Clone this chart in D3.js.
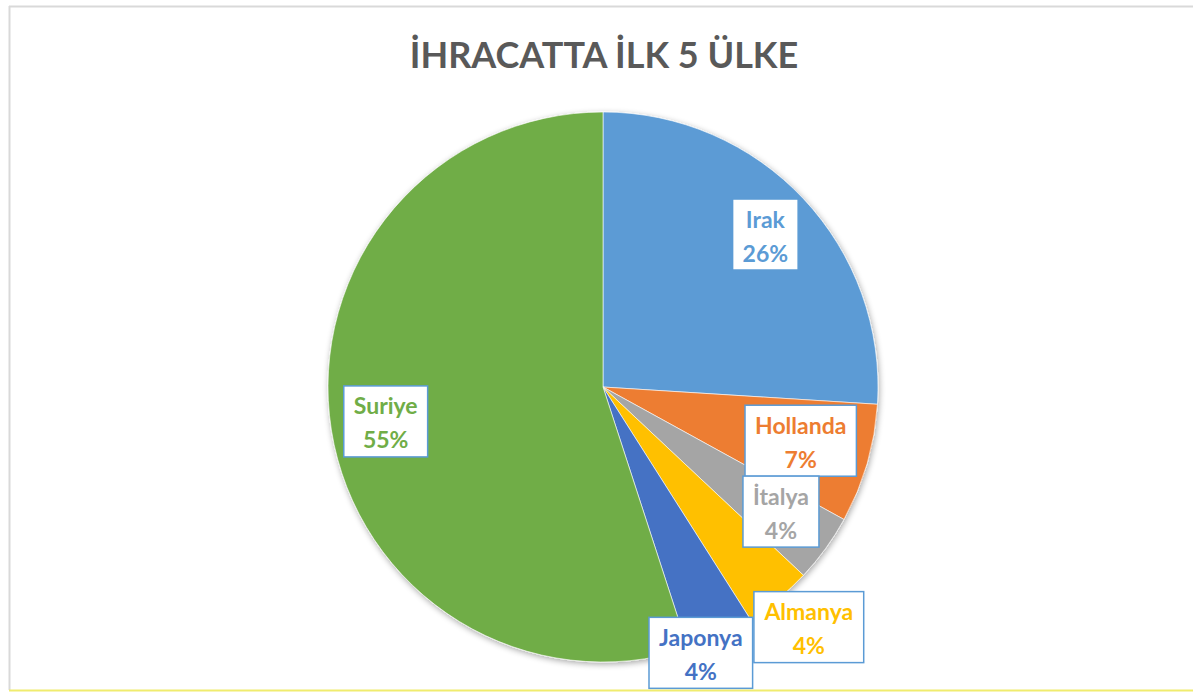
<!DOCTYPE html>
<html>
<head>
<meta charset="utf-8">
<script src="https://cdn.jsdelivr.net/npm/d3@7"></script>
<style>
  html, body { margin: 0; padding: 0; background: #fff; }
  svg { display: block; }
</style>
</head>
<body>
<div id="chart"></div>
<script>
// veriler
const countries = ["Irak", "Hollanda", "İtalya", "Almanya", "Japonya", "Suriye"];
const shares = [26, 7, 4, 4, 4, 55];
const colors = ["#5B9BD5", "#ED7D31", "#A5A5A5", "#FFC000", "#4472C4", "#70AD47"];
const title = "İHRACATTA İLK 5 ÜLKE";

// etiket yerleşimi: merkeze uzaklık (yarıçap oranı) ve açı kaydırması (derece)
const labelRadius = [0.81, 0.745, 0.79, 1.15, 1.03, 0.80];
const labelTurn = [0, -1, -1, -1, 5, 0];

const width = 1193, height = 693;
const cx = 603, cy = 387, r = 275;

const svg = d3.select("#chart").append("svg")
    .attr("width", width)
    .attr("height", height);

// çerçeve
svg.append("line").attr("x1", 9.5).attr("y1", 6).attr("x2", 9.5).attr("y2", 690)
   .attr("stroke", "#D9D9D9").attr("stroke-width", 2);
svg.append("line").attr("x1", 9).attr("y1", 6.5).attr("x2", width).attr("y2", 6.5)
   .attr("stroke", "#D9D9D9").attr("stroke-width", 2);
svg.append("line").attr("x1", 9).attr("y1", 690.5).attr("x2", width).attr("y2", 690.5)
   .attr("stroke", "#F0EC6E").attr("stroke-width", 2);

svg.append("text")
   .attr("x", cx + 1)
   .attr("y", 68)
   .attr("text-anchor", "middle")
   .attr("font-family", "Lato, 'Open Sans', sans-serif")
   .attr("font-weight", "bold")
   .attr("font-size", 36)
   .attr("fill", "#595959")
   .text(title);

const defs = svg.append("defs");
const shadow = defs.append("filter").attr("id", "shadow")
   .attr("x", "-10%").attr("y", "-10%").attr("width", "120%").attr("height", "120%");
shadow.append("feGaussianBlur").attr("in", "SourceAlpha").attr("stdDeviation", 3);
shadow.append("feOffset").attr("dx", 1).attr("dy", 2).attr("result", "b");
shadow.append("feComponentTransfer").append("feFuncA").attr("type", "linear").attr("slope", 0.35);
const merge = shadow.append("feMerge");
merge.append("feMergeNode");
merge.append("feMergeNode").attr("in", "SourceGraphic");

const data = countries.map((c, i) => ({
  name: c, value: shares[i], color: colors[i], lr: labelRadius[i], turn: labelTurn[i]
}));

const pie = d3.pie().value(d => d.value).sort(null);
const arc = d3.arc().innerRadius(0).outerRadius(r);
const arcs = pie(data);

const g = svg.append("g").attr("transform", `translate(${cx},${cy})`);

g.append("g").attr("filter", "url(#shadow)")
  .selectAll("path")
  .data(arcs)
  .enter().append("path")
  .attr("d", arc)
  .attr("fill", d => d.data.color)
  .attr("stroke", "#fff")
  .attr("stroke-opacity", 0.6)
  .attr("stroke-width", 1);

// etiketler
const labels = g.append("g")
  .selectAll("g")
  .data(arcs)
  .enter().append("g")
  .attr("transform", d => {
    const a = (d.startAngle + d.endAngle) / 2 + d.data.turn * Math.PI / 180;
    const rr = r * d.data.lr;
    return `translate(${Math.sin(a) * rr},${-Math.cos(a) * rr})`;
  });

const box = labels.append("rect")
  .attr("fill", "#fff")
  .attr("stroke", "#5B9BD5")
  .attr("stroke-width", 1.5);

labels.append("text")
  .attr("text-anchor", "middle")
  .attr("font-family", "Lato, 'Open Sans', sans-serif")
  .attr("font-weight", "bold")
  .attr("font-size", 23)
  .attr("fill", d => d.data.color)
  .each(function(d) {
    const t = d3.select(this);
    t.append("tspan").attr("x", 0).attr("y", -7).text(d.data.name);
    t.append("tspan").attr("x", 0).attr("y", 27).text(d.data.value + "%");
  });

box.each(function() {
  const t = d3.select(this.parentNode).select("text").node().getBBox();
  const w = t.width + 20;
  d3.select(this)
    .attr("x", -w / 2)
    .attr("y", -35.5)
    .attr("width", w)
    .attr("height", 71);
});
</script>
</body>
</html>
